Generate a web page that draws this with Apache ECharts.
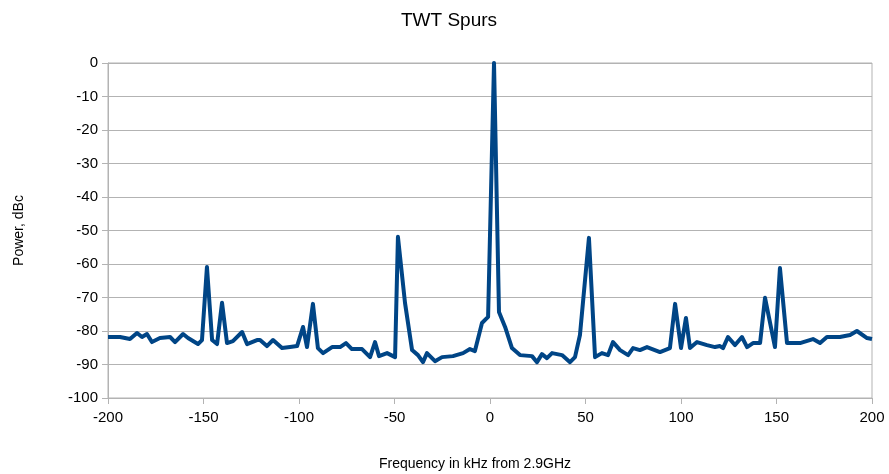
<!DOCTYPE html>
<html>
<head>
<meta charset="utf-8">
<script src="https://cdn.jsdelivr.net/npm/echarts@6/dist/echarts.min.js"></script>
<style>
  html, body { margin: 0; padding: 0; background: #fff; }
  #chart { width: 889px; height: 474px; }
</style>
</head>
<body>
<div id="chart"></div>
<script>
// frequency offsets (kHz from 2.9GHz)
var freq = [
  -200, -193.7, -188.5, -184.8, -182.2, -179.6, -177, -172.8, -167.5, -164.9,
  -160.7, -158.1, -152.9, -150.8, -148.2, -145.5, -142.9, -140.3, -137.7, -134.6,
  -129.8, -127.2, -122, -120.4, -116.8, -113.6, -108.9, -104.7, -101, -97.9,
  -95.8, -92.7, -90.1, -87.4, -82.7, -78.5, -75.4, -72.3, -67, -62.8,
  -60.2, -58.1, -53.9, -49.7, -48.2, -44.5, -40.8, -37.7, -35.1, -33,
  -28.8, -25.1, -19.4, -14.1, -10.5, -7.9, -4.2, -1, 2.1, 4.7,
  7.9, 11.5, 15.7, 22, 24.6, 27.2, 29.8, 32.5, 37.7, 41.9,
  44.5, 47.1, 51.8, 55, 58.6, 61.8, 64.4, 68.1, 72.3, 74.9,
  78.5, 82.2, 89, 94.2, 96.9, 100, 102.6, 104.7, 108.4, 113.6,
  117.8, 120.4, 122, 124.6, 128.3, 131.9, 134.6, 137.7, 141.4, 144,
  149.2, 151.8, 155.5, 162.3, 169.1, 172.8, 176.4, 183.2, 188.5, 192.1,
  197.4, 200
];
// power (dBc)
var power = [
  -81.8, -81.8, -82.4, -80.6, -81.8, -80.9, -83.3, -82.1, -81.8, -83.3,
  -80.9, -82.1, -83.9, -82.7, -60.9, -82.7, -83.9, -71.6, -83.6, -83.0,
  -80.3, -83.9, -82.7, -82.7, -84.5, -82.7, -85.1, -84.8, -84.5, -78.8,
  -84.8, -71.9, -85.1, -86.6, -84.8, -84.8, -83.6, -85.4, -85.4, -87.8,
  -83.3, -87.5, -86.6, -87.8, -51.9, -71.6, -85.7, -87.2, -89.3, -86.6,
  -89.0, -87.8, -87.5, -86.6, -85.4, -86.0, -77.6, -75.8, 0, -74.3,
  -78.8, -85.1, -87.2, -87.5, -89.3, -86.9, -88.1, -86.6, -87.2, -89.3,
  -87.8, -81.2, -52.2, -87.8, -86.6, -87.2, -83.3, -85.7, -87.2, -85.1,
  -85.7, -84.8, -86.3, -85.1, -71.9, -85.1, -76.1, -85.1, -83.3, -84.2,
  -84.8, -84.5, -85.1, -81.8, -84.2, -81.8, -84.8, -83.6, -83.6, -70.1,
  -84.8, -61.2, -83.6, -83.6, -82.4, -83.6, -81.8, -81.8, -81.2, -80.0,
  -82.1, -82.4
];

var pts = [];
for (var i = 0; i < freq.length; i++) {
    pts.push([freq[i], power[i]]);
}

var myChart = echarts.init(document.getElementById('chart'));
var font = 'Liberation Sans, Arial, sans-serif';
var gridCol = '#b3b3b3';

var option = {
    animation: false,
    backgroundColor: '#fff',
    title: [
        {
            text: 'TWT Spurs',
            left: 444, top: 6, textAlign: 'center',
            textStyle: { fontFamily: font, fontSize: 19, fontWeight: 'normal', color: '#000' }
        },
        {
            text: 'Frequency in kHz from 2.9GHz',
            left: 470, top: 452, textAlign: 'center',
            textStyle: { fontFamily: font, fontSize: 14, fontWeight: 'normal', color: '#000' }
        }
    ],
    grid: {
        left: 108, right: 17, top: 63, bottom: 76,
        show: true, borderColor: gridCol, borderWidth: 1
    },
    xAxis: {
        type: 'value',
        min: -200, max: 200, interval: 50,
        axisLine: { show: true, onZero: false, lineStyle: { color: gridCol, width: 1 } },
        axisTick: { show: true, length: 6, lineStyle: { color: gridCol } },
        splitLine: { show: false },
        axisLabel: { fontFamily: font, fontSize: 15, color: '#000', margin: 12 }
    },
    yAxis: {
        type: 'value',
        min: -100, max: 0, interval: 10,
        name: 'Power, dBc',
        nameLocation: 'middle',
        nameGap: 82,
        nameTextStyle: { fontFamily: font, fontSize: 14, color: '#000' },
        axisLine: { show: true, onZero: false, lineStyle: { color: gridCol, width: 1 } },
        axisTick: { show: true, length: 6, lineStyle: { color: gridCol } },
        splitLine: { show: true, lineStyle: { color: gridCol, width: 1 } },
        axisLabel: { fontFamily: font, fontSize: 15, color: '#000', margin: 10 }
    },
    series: [
        {
            type: 'line',
            data: pts,
            showSymbol: false,
            lineStyle: { color: '#004586', width: 4, join: 'round' },
            itemStyle: { color: '#004586' }
        }
    ]
};

myChart.setOption(option);
</script>
</body>
</html>
